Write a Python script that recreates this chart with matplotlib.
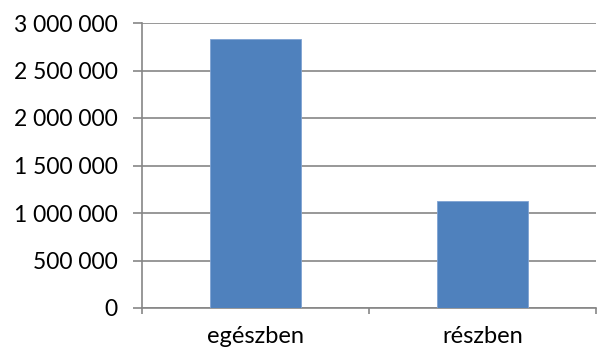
import matplotlib.pyplot as plt
from matplotlib.ticker import FuncFormatter

categories = ["egészben", "részben"]
values = [2835000, 1123000]
yticks = [0, 500000, 1000000, 1500000, 2000000, 2500000, 3000000]

plt.rcParams['font.family'] = ['Lato', 'DejaVu Sans']

fig = plt.figure(figsize=(5.97, 3.56), dpi=100)
ax = fig.add_axes([142 / 597, 48 / 356, 454 / 597, 285 / 356])

x = range(len(categories))
ax.bar(x, values, width=0.4, color="#4F81BD", edgecolor="#7FA3D3", linewidth=0.6, zorder=3)

ax.set_xlim(-0.5, 1.5)
ax.set_ylim(0, 3000000)
ax.set_yticks(yticks)
ax.yaxis.set_major_formatter(FuncFormatter(lambda v, p: f"{int(v):,}".replace(",", " ")))
ax.set_xticks([-0.5, 0.5, 1.5])
ax.set_xticks(list(x), minor=True)
ax.set_xticklabels([])
ax.set_xticklabels(categories, minor=True)

ax.grid(axis="y", color="#868686", linewidth=1.2, zorder=0)
for s in ["top", "right"]:
    ax.spines[s].set_visible(False)
for s in ["left", "bottom"]:
    ax.spines[s].set_color("#868686")
    ax.spines[s].set_linewidth(1.2)

ax.tick_params(axis="y", which="major", length=6.5, width=1.2, color="#868686", pad=11, labelsize=16.5)
ax.tick_params(axis="x", which="major", length=4.5, width=1.2, color="#868686")
ax.tick_params(axis="x", which="minor", length=0, pad=13, labelsize=17)

fig.savefig("out.png", dpi=100)
